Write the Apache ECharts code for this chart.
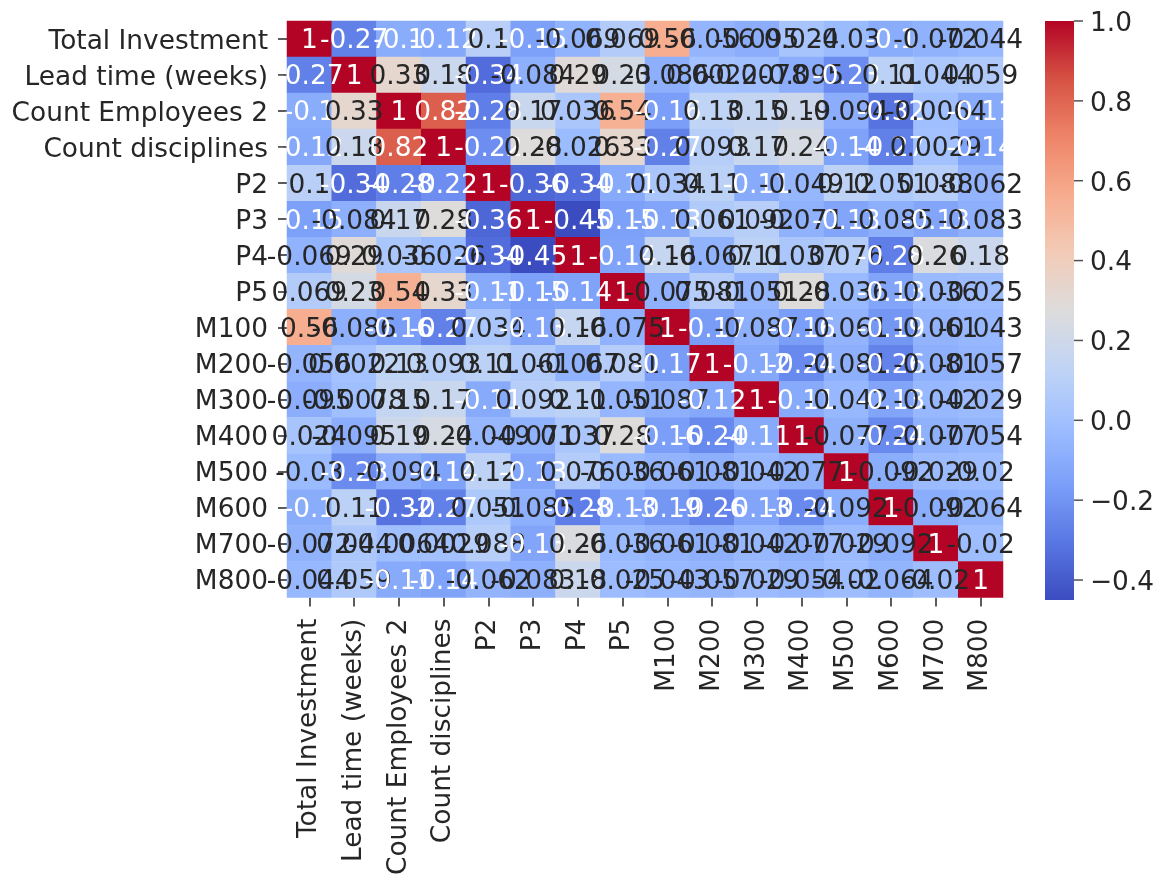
<!DOCTYPE html>
<html><head><meta charset="utf-8">
<script src="https://cdn.jsdelivr.net/npm/echarts@6/dist/echarts.min.js"></script>
<style>html,body{margin:0;padding:0;background:#fff;overflow:hidden}#c{width:1162px;height:878px;filter:blur(0.7px)}</style>
</head><body><div id="c"></div>
<script>
const labels = ["Total Investment","Lead time (weeks)","Count Employees 2","Count disciplines","P2","P3","P4","P5","M100","M200","M300","M400","M500","M600","M700","M800"];
const rowTotal = [1,-0.27,-0.1,-0.12,0.1,-0.15,-0.069,0.069,0.56,-0.056,-0.095,0.024,-0.03,-0.1,-0.072,-0.044];
const rowLead  = [-0.27,1,0.33,0.18,-0.34,-0.084,0.29,0.23,-0.086,0.0022,-0.0078,-0.095,-0.23,0.11,0.044,0.059];
const rowEmpl  = [-0.1,0.33,1,0.82,-0.28,0.17,0.036,0.54,-0.16,0.13,0.15,0.19,-0.094,-0.32,-0.0064,-0.11];
const rowDisc  = [-0.12,0.18,0.82,1,-0.22,0.28,-0.026,0.33,-0.27,0.093,0.17,0.24,-0.14,-0.27,0.0029,-0.14];
const rowP2    = [0.1,-0.34,-0.28,-0.22,1,-0.36,-0.34,-0.11,0.034,0.11,-0.11,-0.049,0.12,0.051,0.088,-0.062];
const rowP3    = [-0.15,-0.084,0.17,0.28,-0.36,1,-0.45,-0.15,-0.13,0.061,0.092,-0.071,-0.13,-0.085,-0.13,-0.083];
const rowP4    = [-0.069,0.29,0.036,-0.026,-0.34,-0.45,1,-0.14,0.16,-0.067,0.11,0.037,0.076,-0.28,0.26,0.18];
const rowP5    = [0.069,0.23,0.54,0.33,-0.11,-0.15,-0.14,1,-0.075,0.081,-0.051,0.28,-0.036,-0.13,-0.036,-0.025];
const rowM100  = [0.56,-0.086,-0.16,-0.27,0.034,-0.13,0.16,-0.075,1,-0.17,-0.087,-0.16,-0.061,-0.19,-0.061,-0.043];
const rowM200  = [-0.056,0.0022,0.13,0.093,0.11,0.061,-0.067,0.081,-0.17,1,-0.12,-0.24,-0.081,-0.26,-0.081,-0.057];
const rowM300  = [-0.095,-0.0078,0.15,0.17,-0.11,0.092,0.11,-0.051,-0.087,-0.12,1,-0.11,-0.042,-0.13,-0.042,-0.029];
const rowM400  = [0.024,-0.095,0.19,0.24,-0.049,-0.071,0.037,0.28,-0.16,-0.24,-0.11,1,-0.077,-0.24,-0.077,-0.054];
const rowM500  = [-0.03,-0.23,-0.094,-0.14,0.12,-0.13,0.076,-0.036,-0.061,-0.081,-0.042,-0.077,1,-0.092,-0.029,-0.02];
const rowM600  = [-0.1,0.11,-0.32,-0.27,0.051,-0.085,-0.28,-0.13,-0.19,-0.26,-0.13,-0.24,-0.092,1,-0.092,-0.064];
const rowM700  = [-0.072,0.044,-0.0064,0.0029,0.088,-0.13,0.26,-0.036,-0.061,-0.081,-0.042,-0.077,-0.029,-0.092,1,-0.02];
const rowM800  = [-0.044,0.059,-0.11,-0.14,-0.062,-0.083,0.18,-0.025,-0.043,-0.057,-0.029,-0.054,-0.02,-0.064,-0.02,1];
const rows = [rowTotal,rowLead,rowEmpl,rowDisc,rowP2,rowP3,rowP4,rowP5,rowM100,rowM200,rowM300,rowM400,rowM500,rowM600,rowM700,rowM800];
const barTicks = [-0.4,-0.2,0,0.2,0.4,0.6,0.8,1];
const vMin = -0.45, vMax = 1;
const coolwarm = ["#3b4cc0","#5977e3","#7b9ff9","#9ebeff","#c0d4f5","#dddcdc","#f2cbb7","#f7ac8e","#ee8468","#d65244","#b40426"];

function hex(c){return [1,3,5].map(i=>parseInt(c.substr(i,2),16)/255);}
function lin(u){return u<=0.03928?u/12.92:Math.pow((u+0.055)/1.055,2.4);}
function textColor(v){
  const t=Math.max(0,Math.min(1,(v-vMin)/(vMax-vMin)))*10, i=Math.min(9,Math.floor(t)), f=t-i;
  const a=hex(coolwarm[i]), b=hex(coolwarm[i+1]);
  const rgb=a.map((x,k)=>x+(b[k]-x)*f).map(lin);
  const L=0.2126*rgb[0]+0.7152*rgb[1]+0.0722*rgb[2];
  return L<0.42?"#ffffff":"#262626";
}
const fmt=v=>String(Number(v.toPrecision(2)));
const data=[];
rows.forEach((r,y)=>r.forEach((v,x)=>data.push({value:[x,y,v],label:{color:textColor(v)}})));

const FS=26.4, TXT="#262626", FF="'DejaVu Sans'";
const barGradient=new echarts.graphic.LinearGradient(0,1,0,0,coolwarm.map((c,i)=>({offset:i/10,color:c})));
const chart=echarts.init(document.getElementById("c"));
chart.setOption({
  backgroundColor:"#fff",
  animation:false,
  textStyle:{fontFamily:FF},
  grid:[{left:287,top:21,width:716,height:579},
        {left:1045,top:21,width:29,height:579,show:true,backgroundColor:barGradient,borderWidth:0}],
  xAxis:[{type:"category",data:labels,gridIndex:0,position:"bottom",splitArea:{show:false},splitLine:{show:false},
          axisLine:{show:false},axisTick:{show:true,alignWithLabel:true,length:9,lineStyle:{color:TXT,width:1.5}},
          axisLabel:{interval:0,rotate:90,fontSize:FS,color:TXT,fontFamily:FF,margin:21}},
         {type:"value",gridIndex:1,min:0,max:1,show:false}],
  yAxis:[{type:"category",data:labels,gridIndex:0,inverse:true,splitArea:{show:false},splitLine:{show:false},
          axisLine:{show:false},axisTick:{show:true,alignWithLabel:true,length:9,lineStyle:{color:TXT,width:1.5}},
          axisLabel:{interval:0,fontSize:FS,color:TXT,fontFamily:FF,margin:19,verticalAlign:"top",lineHeight:6}},
         {type:"value",gridIndex:1,min:vMin,max:vMax,position:"right",splitLine:{show:false},axisLine:{show:false},
          axisTick:{show:false},
          axisLabel:{fontSize:FS,color:TXT,fontFamily:FF,margin:16,verticalAlign:"top",lineHeight:6,customValues:barTicks,
            formatter:v=>v.toFixed(1).replace("-","\u2212")}}],
  visualMap:{show:false,type:"continuous",seriesIndex:0,min:vMin,max:vMax,inRange:{color:coolwarm}},
  series:[
   {type:"heatmap",xAxisIndex:0,yAxisIndex:0,data:data,encode:{x:0,y:1,value:2},
    label:{show:true,fontSize:FS,fontFamily:FF,offset:[0,2.5],formatter:p=>fmt(p.value[2])},
    itemStyle:{borderWidth:0},emphasis:{disabled:true},progressive:0},
   {type:"scatter",xAxisIndex:1,yAxisIndex:1,silent:true,clip:false,symbol:"rect",symbolSize:[9,1.5],symbolOffset:[4.5,0],
    itemStyle:{color:TXT},data:barTicks.map(v=>[1,v])}
  ]
});
</script></body></html>
